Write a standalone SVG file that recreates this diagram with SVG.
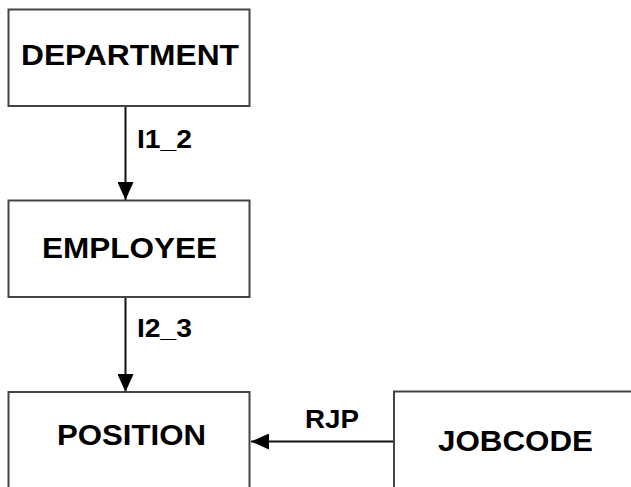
<svg xmlns="http://www.w3.org/2000/svg" width="631" height="487" viewBox="0 0 631 487">
<defs>
<style>
.box{fill:#fff;stroke:#444;stroke-width:2}
.nt{font-family:"Liberation Sans",Arial,sans-serif;font-weight:bold;font-size:29px;fill:#000}
.lt{font-family:"Liberation Sans",Arial,sans-serif;font-weight:bold;font-size:26px;fill:#000}
.cn{stroke:#111;stroke-width:2;fill:none}
</style>
<marker id="ah" viewBox="0 0 10 10" refX="10" refY="5" markerWidth="9" markerHeight="9" markerUnits="userSpaceOnUse" orient="auto">
<path d="M0,0 L10,5 L0,10 z" fill="#000"/>
</marker>
<marker id="arr" viewBox="0 0 18 16" refX="18" refY="8" markerWidth="18" markerHeight="16" markerUnits="userSpaceOnUse" orient="auto">
<path d="M0,0 L18,8 L0,16 z" fill="#000"/>
</marker>
</defs>
<rect width="631" height="487" fill="#fff"/>
<g id="connectors">
<line class="cn" x1="125.5" y1="106" x2="125.5" y2="200" marker-end="url(#arr)"/>
<text class="lt" x="137" y="148" textLength="55" lengthAdjust="spacingAndGlyphs">I1_2</text>
<line class="cn" x1="125.5" y1="297" x2="125.5" y2="392" marker-end="url(#arr)"/>
<text class="lt" x="137" y="337" textLength="55" lengthAdjust="spacingAndGlyphs">I2_3</text>
<line class="cn" x1="394" y1="441.5" x2="251" y2="441.5" marker-end="url(#arr)"/>
<text class="lt" x="305" y="428" textLength="54" lengthAdjust="spacingAndGlyphs">RJP</text>
</g>
<g id="department">
<rect class="box" x="8.5" y="9.5" width="241" height="96.5"/>
<text class="nt" x="21" y="65" textLength="218" lengthAdjust="spacingAndGlyphs">DEPARTMENT</text>
</g>
<g id="employee">
<rect class="box" x="8.5" y="200.5" width="241" height="96.5"/>
<text class="nt" x="42" y="257.5" textLength="175" lengthAdjust="spacingAndGlyphs">EMPLOYEE</text>
</g>
<g id="position">
<rect class="box" x="8.5" y="392" width="241" height="110"/>
<text class="nt" x="57" y="444.5" textLength="149" lengthAdjust="spacingAndGlyphs">POSITION</text>
</g>
<g id="jobcode">
<rect class="box" x="394" y="391.5" width="250" height="110"/>
<text class="nt" x="438" y="450.5" textLength="155" lengthAdjust="spacingAndGlyphs">JOBCODE</text>
</g>
</svg>
